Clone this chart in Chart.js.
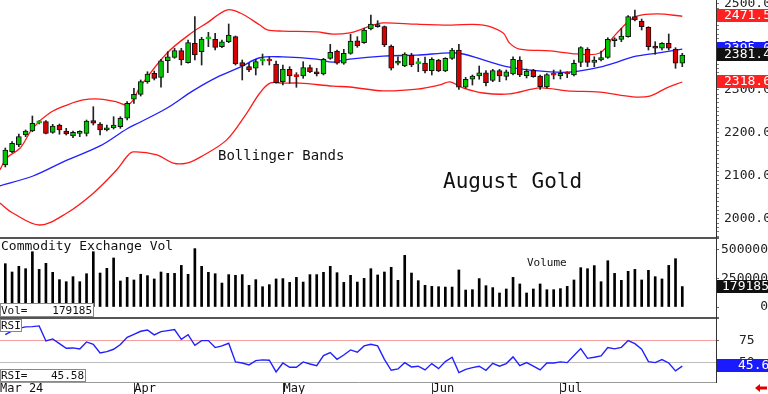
<!DOCTYPE html>
<html>
<head>
<meta charset="utf-8">
<script src="https://cdn.jsdelivr.net/npm/chart.js@4.4.1/dist/chart.umd.min.js"></script>
<style>
  html, body { margin: 0; padding: 0; background: #fff; overflow: hidden; }
  canvas { display: block; }
</style>
</head>
<body>
<canvas id="goldChart" width="768" height="394"></canvas>
<script>
// August Gold, daily candles Mar - Jul 2024 (index 0 = first visible session)
const opens = [
  2125.6, 2156.5, 2172.1, 2195.3, 2204.6, 2223.4, 2226.3, 2201.6, 2218.6, 2204.6,
  2193.0, 2199.3, 2199.3, 2228.6, 2220.9, 2207.0, 2212.3, 2214.6, 2234.2, 2278.4,
  2290.0, 2319.3, 2338.8, 2329.5, 2368.1, 2376.0, 2391.4, 2363.5, 2408.6, 2389.1,
  2418.9, 2417.9, 2400.7, 2412.3, 2424.0, 2363.5, 2354.2, 2350.5, 2367.8, 2368.0,
  2360.5, 2319.3, 2348.1, 2331.6, 2332.6, 2351.9, 2342.5, 2337.2, 2373.7, 2390.7,
  2362.1, 2385.3, 2414.6, 2410.0, 2441.9, 2451.2, 2447.2, 2402.3, 2362.1, 2355.8,
  2381.4, 2361.5, 2362.8, 2344.9, 2369.8, 2344.2, 2373.7, 2393.0, 2306.3, 2324.9,
  2332.6, 2340.2, 2322.0, 2344.9, 2331.5, 2337.2, 2369.8, 2333.3, 2346.5, 2332.6,
  2307.0, 2335.0, 2333.6, 2337.5, 2334.9, 2364.4, 2394.6, 2364.4, 2369.8, 2376.0,
  2414.6, 2417.9, 2424.0, 2470.5, 2460.5, 2445.8, 2402.3, 2397.0, 2408.6, 2395.4,
  2362.1
];
const highs = [
  2165.1, 2179.8, 2197.7, 2207.0, 2239.5, 2228.6, 2228.6, 2220.2, 2220.9, 2210.9,
  2204.6, 2205.3, 2230.2, 2261.2, 2224.0, 2218.6, 2237.9, 2237.9, 2272.8, 2304.0,
  2323.3, 2342.5, 2344.2, 2371.4, 2389.1, 2397.0, 2397.0, 2416.3, 2470.5, 2422.6,
  2434.2, 2431.9, 2416.3, 2453.5, 2425.6, 2369.8, 2362.1, 2371.4, 2383.7, 2377.4,
  2367.4, 2358.1, 2354.2, 2340.3, 2365.8, 2358.1, 2350.5, 2373.7, 2406.3, 2393.0,
  2394.6, 2429.5, 2424.0, 2443.5, 2474.4, 2461.2, 2448.8, 2404.7, 2377.4, 2386.7,
  2385.3, 2373.7, 2376.7, 2375.1, 2371.4, 2375.1, 2397.0, 2406.3, 2329.5, 2334.9,
  2355.8, 2344.9, 2348.1, 2348.1, 2346.5, 2377.4, 2377.4, 2348.8, 2348.1, 2334.9,
  2338.1, 2346.5, 2346.5, 2342.5, 2369.8, 2400.7, 2398.4, 2377.4, 2390.7, 2421.6,
  2421.6, 2443.5, 2472.8, 2486.0, 2465.1, 2447.2, 2412.3, 2410.0, 2430.2, 2398.4,
  2385.3
];
const lows = [
  2121.0, 2154.2, 2168.1, 2191.4, 2203.0, 2220.9, 2197.7, 2199.3, 2197.0, 2195.3,
  2189.1, 2191.4, 2193.0, 2218.6, 2195.3, 2204.6, 2209.3, 2210.9, 2230.2, 2268.9,
  2286.0, 2315.6, 2323.3, 2306.3, 2340.2, 2373.7, 2358.1, 2362.1, 2369.8, 2358.1,
  2400.7, 2393.0, 2398.4, 2410.0, 2358.1, 2323.3, 2342.5, 2334.9, 2358.1, 2358.1,
  2315.6, 2311.6, 2315.6, 2306.3, 2327.2, 2340.2, 2332.6, 2334.9, 2371.4, 2359.8,
  2359.8, 2383.0, 2399.3, 2408.6, 2439.5, 2445.8, 2400.7, 2346.5, 2358.1, 2354.2,
  2354.2, 2342.5, 2339.5, 2334.9, 2342.5, 2342.5, 2371.4, 2301.6, 2304.0, 2311.6,
  2325.0, 2309.3, 2319.3, 2319.3, 2323.3, 2334.9, 2331.0, 2327.9, 2329.5, 2301.6,
  2304.0, 2325.6, 2325.6, 2328.6, 2332.6, 2354.2, 2354.2, 2354.2, 2367.4, 2373.7,
  2400.7, 2412.3, 2422.6, 2460.5, 2439.5, 2393.0, 2383.0, 2393.0, 2393.0, 2350.5,
  2354.2
];
const closes = [
  2160.5, 2176.0, 2191.4, 2204.6, 2222.6, 2224.0, 2199.3, 2216.3, 2207.0, 2197.7,
  2201.6, 2203.0, 2227.9, 2222.6, 2207.0, 2212.3, 2218.6, 2234.2, 2269.1, 2290.0,
  2319.3, 2337.2, 2327.2, 2368.1, 2377.4, 2391.4, 2369.8, 2410.0, 2381.4, 2418.6,
  2419.3, 2399.3, 2412.3, 2427.9, 2360.5, 2355.8, 2346.5, 2365.8, 2368.1, 2367.4,
  2317.0, 2348.8, 2332.6, 2331.0, 2351.9, 2342.5, 2337.2, 2371.4, 2387.7, 2362.1,
  2385.3, 2413.9, 2402.3, 2439.5, 2453.5, 2447.2, 2404.7, 2350.5, 2367.4, 2383.7,
  2358.1, 2362.1, 2344.2, 2371.4, 2344.2, 2373.7, 2393.0, 2306.3, 2324.9, 2332.6,
  2340.2, 2317.0, 2344.9, 2332.6, 2342.5, 2371.4, 2334.9, 2344.2, 2331.0, 2307.7,
  2336.0, 2334.2, 2339.0, 2337.2, 2362.1, 2398.4, 2364.4, 2369.8, 2375.1, 2417.9,
  2418.6, 2425.6, 2470.5, 2462.8, 2447.2, 2400.7, 2397.0, 2408.6, 2397.0, 2362.1,
  2381.4
];
const volumes = [
  380000, 307000, 357000, 336000, 485000, 330000, 383000, 304000, 240000, 222000,
  266000, 222000, 292000, 485000, 298000, 339000, 430000, 228000, 260000, 237000,
  287000, 275000, 246000, 307000, 295000, 295000, 365000, 287000, 512000, 357000,
  304000, 292000, 210000, 284000, 278000, 284000, 190000, 240000, 178000, 196000,
  246000, 249000, 216000, 260000, 219000, 284000, 284000, 304000, 357000, 301000,
  216000, 278000, 219000, 251000, 336000, 281000, 307000, 348000, 234000, 453000,
  298000, 231000, 190000, 181000, 178000, 175000, 175000, 325000, 149000, 152000,
  249000, 187000, 170000, 123000, 158000, 260000, 202000, 123000, 158000, 202000,
  152000, 152000, 161000, 181000, 237000, 345000, 336000, 363000, 222000, 406000,
  295000, 234000, 313000, 330000, 237000, 322000, 266000, 246000, 365000, 424000,
  179185
];
const rsi = [
  81.4, 85.6, 88.6, 90.2, 90.5, 91.3, 74.2, 76.5, 71.2, 65.9,
  66.3, 65.2, 73.1, 70.5, 60.6, 62.1, 64.8, 70.1, 78.4, 81.8,
  85.2, 86.7, 81.1, 84.8, 86.0, 87.1, 76.1, 81.4, 69.3, 74.6,
  74.6, 66.7, 68.6, 71.6, 50.4, 49.2, 47.0, 51.9, 52.7, 52.3,
  39.0, 49.2, 44.3, 44.3, 50.4, 48.1, 46.2, 57.6, 61.0, 53.4,
  58.3, 64.0, 61.4, 68.6, 70.5, 68.6, 53.4, 40.9, 42.4, 49.6,
  44.7, 45.5, 41.3, 48.5, 42.8, 50.8, 55.7, 38.3, 42.0, 43.9,
  45.5, 40.9, 48.9, 45.5, 48.5, 56.1, 46.2, 49.6, 45.5, 41.3,
  49.2, 49.2, 50.4, 49.6, 57.6, 65.5, 54.5, 55.7, 57.2, 66.7,
  65.2, 67.0, 74.6, 71.2, 64.8, 50.8, 49.6, 53.0, 49.2, 40.2,
  45.58
];

// Bollinger bands at the session index where each point sits
const upperAt  = [-0.8, 0.2, 2.2, 4.1, 6.6, 9.1, 11.5, 14, 16.5, 18, 18.9, 19.9, 23.9, 27.7, 29.8, 32.7, 34.7, 37.6, 38.7, 41, 46, 48.4, 50.9, 52.4, 54.3, 55.8, 60.8, 65.7, 70.6, 73.5, 74.5, 76, 80.5, 84.4, 87.8, 89.8, 91.8, 93.3, 96.3, 100];
const upperVal = [2114, 2142, 2165, 2212, 2247, 2265, 2277, 2279, 2272, 2265, 2277, 2307, 2386, 2435, 2456, 2486, 2479, 2451, 2440, 2437, 2435, 2430, 2433, 2440, 2451, 2456, 2453, 2451, 2451, 2433, 2409, 2395, 2391, 2384, 2386, 2423, 2456, 2472, 2477, 2471.5];
const midAt    = [-0.8, 4.1, 9.1, 14, 18, 19.9, 23.9, 27.7, 31.3, 34.7, 37.6, 41, 46, 48.4, 50.9, 55.8, 60.8, 66.7, 70.6, 74.5, 80.5, 83.9, 87.8, 90.4, 92.7, 96.3, 100];
const midVal   = [2077, 2100, 2137, 2170, 2210, 2225, 2258, 2298, 2330, 2353, 2375, 2377, 2372, 2365, 2372, 2379, 2381, 2386, 2370, 2353, 2342, 2342, 2353, 2365, 2377, 2386, 2395.0];
const lowerAt  = [-0.8, 1.1, 5.1, 9.1, 13, 16.5, 18, 18.9, 22.4, 24.8, 26.8, 28.8, 32.7, 35.7, 37.6, 39.1, 41, 43.5, 48.4, 50.9, 55.8, 60.8, 64.2, 65.7, 67.6, 70.6, 74.5, 79, 83, 87.8, 92.7, 95.2, 97.7, 100];
const lowerVal = [2037, 2014, 1986, 2014, 2060, 2115, 2146, 2156, 2149, 2130, 2130, 2144, 2184, 2247, 2293, 2316, 2316, 2316, 2309, 2307, 2298, 2302, 2312, 2319, 2305, 2293, 2291, 2305, 2298, 2295, 2284, 2286, 2305, 2318.6];

// axis labels
const monthAt = [-0.783, 19.05, 41.1, 63.1, 82.0];
const monthLabels = ['Mar 24', 'Apr', 'May', 'Jun', 'Jul'];
const priceLabels = [2000, 2100, 2200, 2300, 2400, 2500];
const volLabels = [0, 250000, 500000];
const rsiLabels = [50, 75];

const MONO = "'DejaVu Sans Mono', 'Liberation Mono', monospace";
const GREEN = '#00c800';
const RED = '#d80000';

// minor ticks every 10 on the price axis
const priceTicks = [];
for (let v = 1960; v <= 2500; v += 10) priceTicks.push(v);

const idx = closes.map((_, i) => i);

function tag(ctx, x, y, bg, text, textX) {
  ctx.fillStyle = bg;
  ctx.fillRect(x, Math.round(y) - 7, 52, 13);
  ctx.fillStyle = '#fff';
  ctx.font = '13px ' + MONO;
  ctx.textAlign = 'left';
  ctx.textBaseline = 'middle';
  ctx.fillText(text, textX, Math.round(y));
}

function infoBox(ctx, x, y, w, h, left, right) {
  ctx.fillStyle = '#fff';
  ctx.fillRect(x, y, w, h);
  ctx.strokeStyle = '#888';
  ctx.lineWidth = 1;
  ctx.strokeRect(x + 0.5, y + 0.5, w - 1, h - 1);
  ctx.fillStyle = '#111';
  ctx.font = '11px ' + MONO;
  ctx.textBaseline = 'middle';
  ctx.textAlign = 'left';
  ctx.fillText(left, x + 1, y + h / 2 + 1);
  if (right) {
    ctx.textAlign = 'right';
    ctx.fillText(right, x + w - 2, y + h / 2 + 1);
  }
}

const overlay = {
  id: 'overlay',
  afterDraw(chart) {
    const { ctx, chartArea } = chart;
    const yP = chart.scales.y, yV = chart.scales.vol, yR = chart.scales.rsi;
    const right = chartArea.right;
    ctx.save();

    ctx.fillStyle = '#111';
    ctx.textAlign = 'left';
    ctx.textBaseline = 'middle';
    ctx.font = '14px ' + MONO;
    ctx.fillText('Bollinger Bands', 218, 156);
    ctx.font = '21px ' + MONO;
    ctx.fillText('August Gold', 443, 183);
    ctx.font = '13px ' + MONO;
    ctx.fillText('Commodity Exchange Vol', 1, yV.top + 9);
    ctx.font = '11px ' + MONO;
    ctx.fillText('Volume', 527, 263);

    infoBox(ctx, 0, yV.bottom - 15, 94, 14, 'Vol=', String(volumes[volumes.length - 1]));
    infoBox(ctx, 0, yR.top + 1, 22, 13, 'RSI', '');
    infoBox(ctx, 0, yR.bottom - 13, 86, 13, 'RSI=', rsi[rsi.length - 1].toFixed(2));

    // last-value tags on the right axis
    const last = closes.length - 1;
    tag(ctx, right + 1, yP.getPixelForValue(upperVal[upperVal.length - 1]), '#ff2020', upperVal[upperVal.length - 1].toFixed(1), 724);
    tag(ctx, right + 1, yP.getPixelForValue(lowerVal[lowerVal.length - 1]), '#ff2020', lowerVal[lowerVal.length - 1].toFixed(1), 724);
    tag(ctx, right + 1, yP.getPixelForValue(midVal[midVal.length - 1]), '#1a1aff', midVal[midVal.length - 1].toFixed(1), 724);
    tag(ctx, right + 1, yP.getPixelForValue(closes[last]), '#111', closes[last].toFixed(1), 724);
    tag(ctx, right + 1, yV.getPixelForValue(volumes[last]), '#111', String(volumes[last]), 722);
    tag(ctx, right + 1, yR.getPixelForValue(rsi[last]), '#1a1aff', rsi[last].toFixed(1), 738);

    // little red arrow bottom right
    ctx.fillStyle = '#e00000';
    ctx.beginPath();
    ctx.moveTo(755, 388);
    ctx.lineTo(760, 384);
    ctx.lineTo(760, 386.5);
    ctx.lineTo(767, 386.5);
    ctx.lineTo(767, 389.5);
    ctx.lineTo(760, 389.5);
    ctx.lineTo(760, 392);
    ctx.closePath();
    ctx.fill();
    ctx.restore();
  }
};

const bandLine = (at, vals, color) => ({
  type: 'line',
  data: at.map((x, k) => ({ x: x, y: vals[k] })),
  yAxisID: 'y',
  borderColor: color,
  borderWidth: 1.3,
  pointRadius: 0,
  tension: 0.35,
  order: 6
});

const chart = new Chart(document.getElementById('goldChart'), {
  type: 'bar',
  data: {
    datasets: [
      bandLine(upperAt, upperVal, '#ff1a1a'),
      bandLine(lowerAt, lowerVal, '#ff1a1a'),
      bandLine(midAt, midVal, '#1f1fff'),
      {
        // wicks
        data: idx.map(i => ({ x: i, y: [lows[i], highs[i]] })),
        yAxisID: 'y',
        backgroundColor: '#222',
        barThickness: 1,
        grouped: false,
        order: 5
      },
      {
        // bodies
        data: idx.map(i => ({ x: i, y: [opens[i], closes[i]] })),
        yAxisID: 'y',
        backgroundColor: idx.map(i => closes[i] >= opens[i] ? GREEN : RED),
        borderColor: idx.map(i => Math.abs(closes[i] - opens[i]) < 2 ? (closes[i] >= opens[i] ? GREEN : RED) : '#111'),
        borderWidth: 1,
        borderSkipped: false,
        barThickness: 5,
        minBarLength: 2,
        grouped: false,
        order: 4
      },
      {
        data: idx.map(i => ({ x: i, y: volumes[i] })),
        yAxisID: 'vol',
        backgroundColor: '#000',
        barThickness: 2,
        grouped: false,
        order: 3
      },
      {
        type: 'line',
        data: idx.map(i => ({ x: i, y: rsi[i] })),
        yAxisID: 'rsi',
        borderColor: '#2020ff',
        borderWidth: 1.4,
        pointRadius: 0,
        tension: 0,
        order: 2
      }
    ]
  },
  options: {
    responsive: false,
    devicePixelRatio: 1,
    animation: false,
    events: [],
    layout: { padding: 0, autoPadding: false },
    plugins: { legend: { display: false }, tooltip: { enabled: false } },
    scales: {
      x: {
        type: 'linear',
        min: -0.783,
        max: 104.98,
        offset: false,
        afterBuildTicks: s => { s.ticks = monthAt.map(v => ({ value: v })); },
        afterFit: s => { s.height = 12; s.paddingLeft = 0; s.paddingRight = 0; },
        ticks: {
          autoSkip: false,
          maxRotation: 0,
          align: 'start',
          padding: -12,
          color: '#111',
          font: { family: MONO, size: 12 },
          callback: (v, i) => monthLabels[i]
        },
        grid: {
          offset: false,
          drawOnChartArea: false,
          tickLength: 12,
          tickColor: ctx => ctx.index === 0 ? 'rgba(0,0,0,0)' : '#333'
        },
        border: { color: '#999' }
      },
      y: {
        position: 'right',
        stack: 'panels',
        stackWeight: 238,
        min: 1955.8,
        max: 2509.3,
        afterBuildTicks: s => { s.ticks = priceTicks.map(v => ({ value: v })); },
        afterFit: s => { s.width = 52; s.paddingTop = 0; s.paddingBottom = 0; },
        ticks: {
          autoSkip: false,
          padding: 5,
          color: '#222',
          font: { family: MONO, size: 13 },
          callback: v => priceLabels.includes(v) ? v.toFixed(1) : ''
        },
        grid: { drawOnChartArea: false, tickLength: 3, tickColor: '#777' },
        border: { color: '#333' }
      },
      vol: {
        position: 'right',
        stack: 'panels',
        stackWeight: 80,
        min: -96491,
        max: 605263,
        afterBuildTicks: s => { s.ticks = volLabels.concat([s.max]).map(v => ({ value: v })); },
        afterFit: s => { s.width = 52; s.paddingTop = 0; s.paddingBottom = 0; },
        ticks: {
          autoSkip: false,
          padding: 3,
          crossAlign: 'far',
          color: '#222',
          font: { family: MONO, size: 13 },
          callback: v => volLabels.includes(v) ? String(v) : ''
        },
        grid: {
          tickLength: 3,
          tickColor: '#666',
          color: ctx => ctx.tick.value === ctx.scale.max ? '#555' : 'rgba(0,0,0,0)',
          lineWidth: ctx => ctx.tick.value === ctx.scale.max ? 2 : 1
        },
        border: { color: '#333' }
      },
      rsi: {
        position: 'right',
        stack: 'panels',
        stackWeight: 64,
        min: 27.6,
        max: 100.3,
        afterBuildTicks: s => { s.ticks = rsiLabels.concat([s.max]).map(v => ({ value: v })); },
        afterFit: s => { s.width = 52; s.paddingTop = 0; s.paddingBottom = 0; },
        ticks: {
          autoSkip: false,
          padding: 20,
          color: '#222',
          font: { family: MONO, size: 13 },
          callback: v => rsiLabels.includes(v) ? String(v) : ''
        },
        grid: {
          tickLength: 3,
          tickColor: '#666',
          color: ctx => ctx.tick.value === ctx.scale.max ? '#555' : (ctx.tick.value === 75 ? '#f5a0a0' : '#bdbdbd'),
          lineWidth: ctx => ctx.tick.value === ctx.scale.max ? 2 : 1
        },
        border: { color: '#333' }
      }
    }
  },
  plugins: [overlay]
});
</script>
</body>
</html>
